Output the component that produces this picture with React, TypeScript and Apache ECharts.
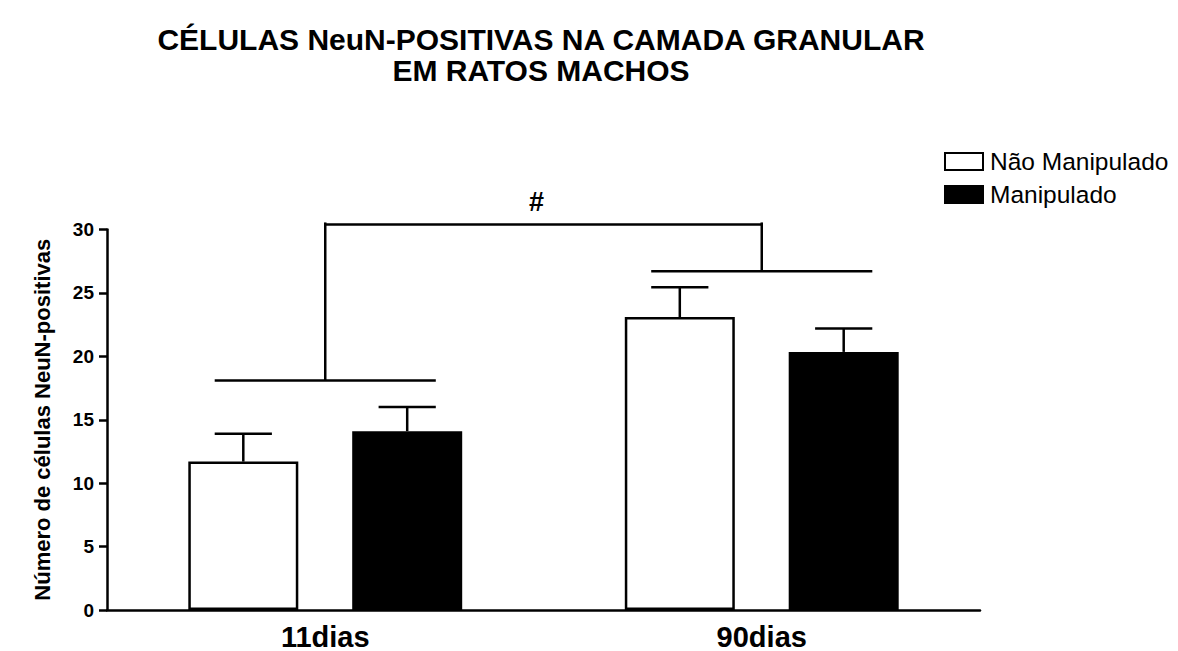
import React, { useEffect, useRef } from 'react';
import * as echarts from 'echarts';

// ---- data ----
const categories = ['11dias', '90dias'];
const seriesNames = ['Não Manipulado', 'Manipulado'];
const meanNaoManipulado = [11.7, 23.1];
const semNaoManipulado = [2.2, 2.35];
const meanManipulado = [14.1, 20.35];
const semManipulado = [1.9, 1.85];
const yMin = 0;
const yMax = 30;
const yInterval = 5;
const groupBracketLevels = [18.1, 26.7];
const topBracketLevel = 30.4;
const topBracketMarkLevel = 32.2;
const topBracketLabel = '#';
const titleLines = ['CÉLULAS NeuN-POSITIVAS NA CAMADA GRANULAR', 'EM RATOS MACHOS'];
const yAxisName = 'Número de células NeuN-positivas';

// ---- style ----
const FONT = '"Liberation Sans", Arial, Helvetica, sans-serif';
const BAR_WIDTH_FRAC = 0.252;
const BAR_GAP_FRAC = 0.49;
const CAP_FRAC = 0.52;
const LW = 2.5;

function geom(api: any) {
  const band = api.size([1, 0])[0];
  const barW = band * BAR_WIDTH_FRAC;
  const gapW = barW * BAR_GAP_FRAC;
  const off = (barW + gapW) / 2;
  const half = (barW * CAP_FRAC) / 2;
  return { off, half };
}

const lineStyle = { stroke: '#000', lineWidth: LW };

export default function App() {
  const ref = useRef<HTMLDivElement>(null);
  useEffect(() => {
    if (!ref.current) return;
    const chart = echarts.init(ref.current, null, { renderer: 'svg' });

    const errData = [
      ...categories.map((_, i) => [i, meanNaoManipulado[i], meanNaoManipulado[i] + semNaoManipulado[i], -1]),
      ...categories.map((_, i) => [i, meanManipulado[i], meanManipulado[i] + semManipulado[i], 1]),
    ];
    const bracketData = categories.map((_, i) => [i, groupBracketLevels[i], topBracketLevel]);
    const topData = [[0, 1, topBracketLevel, topBracketMarkLevel]];

    const option: any = {
      animation: false,
      backgroundColor: '#fff',
      textStyle: { fontFamily: FONT, color: '#000' },
      graphic: [
        {
          type: 'text',
          x: 541,
          y: 24,
          style: {
            text: titleLines.join('\n'),
            textAlign: 'center',
            textVerticalAlign: 'top',
            font: `bold 30px ${FONT}`,
            lineHeight: 31,
            fill: '#000',
          },
        },
      ],
      legend: {
        data: seriesNames,
        orient: 'vertical',
        left: 944,
        top: 149,
        padding: 0,
        itemWidth: 38,
        itemHeight: 17,
        itemGap: 8,
        icon: 'rect',
        itemStyle: { borderColor: '#000', borderWidth: 2 },
        textStyle: { fontFamily: FONT, fontSize: 24.5, color: '#000', padding: [0, 0, 0, 2] },
      },
      grid: { left: 107, right: 198, top: 229.5, bottom: 41 },
      xAxis: {
        type: 'category',
        data: categories,
        axisLine: { lineStyle: { color: '#000', width: LW } },
        axisTick: { show: false },
        axisLabel: {
          fontFamily: FONT,
          fontSize: 29,
          fontWeight: 'bold',
          color: '#000',
          margin: 12,
        },
      },
      yAxis: {
        type: 'value',
        min: yMin,
        max: yMax,
        interval: yInterval,
        name: yAxisName,
        nameLocation: 'middle',
        nameGap: 54,
        nameTextStyle: { fontFamily: FONT, fontSize: 22, fontWeight: 'bold', color: '#000' },
        splitLine: { show: false },
        axisLine: { show: true, lineStyle: { color: '#000', width: LW } },
        axisTick: { show: true, length: 8, lineStyle: { color: '#000', width: LW } },
        axisLabel: { fontFamily: FONT, fontSize: 19, fontWeight: 'bold', color: '#000', margin: 13 },
      },
      series: [
        {
          name: seriesNames[0],
          type: 'bar',
          data: meanNaoManipulado,
          barWidth: `${BAR_WIDTH_FRAC * 100}%`,
          barGap: `${BAR_GAP_FRAC * 100}%`,
          itemStyle: { color: '#fff', borderColor: '#000', borderWidth: LW },
        },
        {
          name: seriesNames[1],
          type: 'bar',
          data: meanManipulado,
          barWidth: `${BAR_WIDTH_FRAC * 100}%`,
          itemStyle: { color: '#000', borderColor: '#000', borderWidth: LW },
        },
        {
          type: 'custom',
          clip: false,
          z: 5,
          data: errData,
          encode: { x: 0, y: [1, 2] },
          renderItem: (params: any, api: any) => {
            const { off, half } = geom(api);
            const c = api.coord([api.value(0), api.value(1)]);
            const e = api.coord([api.value(0), api.value(2)]);
            const cx = c[0] + api.value(3) * off;
            return {
              type: 'group',
              children: [
                { type: 'line', shape: { x1: cx, y1: c[1], x2: cx, y2: e[1] }, style: lineStyle },
                { type: 'line', shape: { x1: cx - half, y1: e[1], x2: cx + half, y2: e[1] }, style: lineStyle },
              ],
            };
          },
        },
        {
          type: 'custom',
          clip: false,
          z: 5,
          data: bracketData,
          encode: { x: 0, y: [1, 2] },
          renderItem: (params: any, api: any) => {
            const { off, half } = geom(api);
            const c = api.coord([api.value(0), api.value(1)]);
            const t = api.coord([api.value(0), api.value(2)]);
            const span = off + half;
            return {
              type: 'group',
              children: [
                { type: 'line', shape: { x1: c[0] - span, y1: c[1], x2: c[0] + span, y2: c[1] }, style: lineStyle },
                { type: 'line', shape: { x1: c[0], y1: c[1], x2: c[0], y2: t[1] - 2 }, style: lineStyle },
              ],
            };
          },
        },
        {
          type: 'custom',
          clip: false,
          z: 5,
          data: topData,
          encode: { x: [0, 1], y: [2, 3] },
          renderItem: (params: any, api: any) => {
            const a = api.coord([api.value(0), api.value(2)]);
            const b = api.coord([api.value(1), api.value(2)]);
            const m = api.coord([api.value(0), api.value(3)]);
            return {
              type: 'group',
              children: [
                { type: 'line', shape: { x1: a[0], y1: a[1], x2: b[0], y2: b[1] }, style: lineStyle },
                {
                  type: 'text',
                  x: (a[0] + b[0]) / 2 - 7,
                  y: m[1],
                  style: {
                    text: topBracketLabel,
                    textAlign: 'center',
                    textVerticalAlign: 'middle',
                    font: `bold 27px ${FONT}`,
                    fill: '#000',
                  },
                },
              ],
            };
          },
        },
      ],
    };
    chart.setOption(option);
    return () => chart.dispose();
  }, []);
  return (
    <div
      ref={ref}
      style={{ position: 'absolute', left: 0, top: 0, width: 1178, height: 651, background: '#fff' }}
    />
  );
}
